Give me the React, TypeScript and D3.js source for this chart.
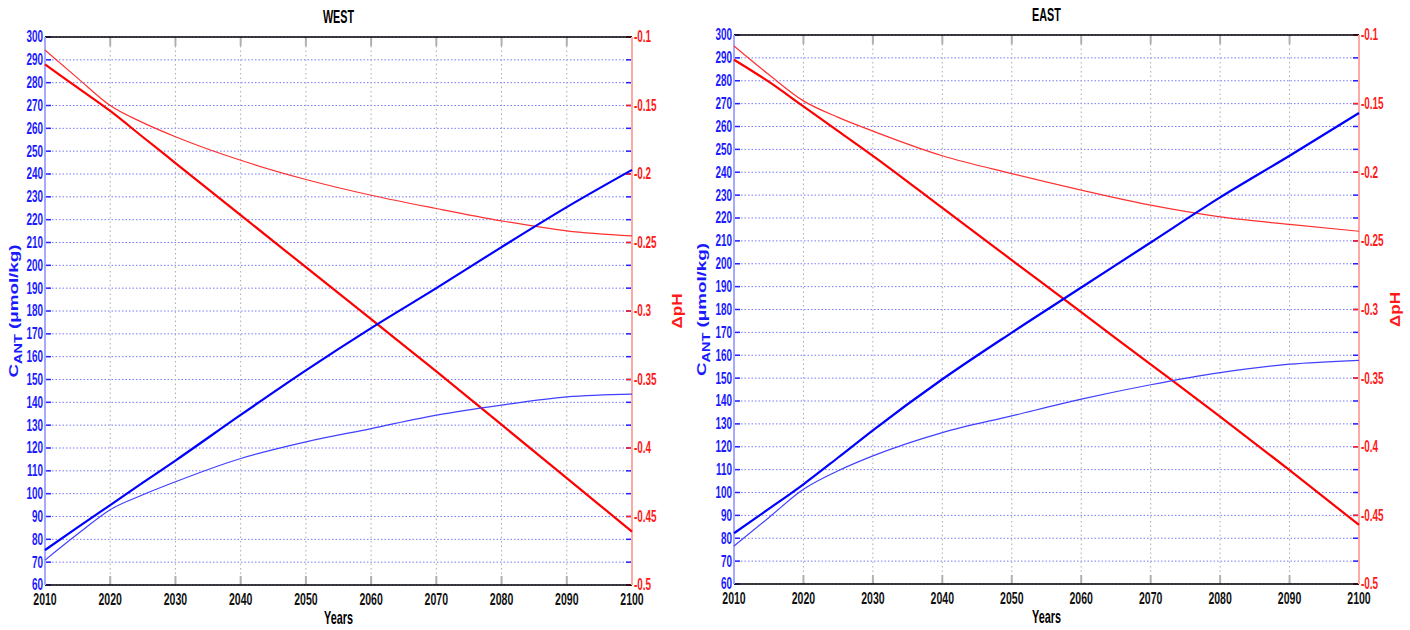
import React from 'react';
import * as d3 from 'd3';

const years = [2010, 2015, 2020, 2025, 2030, 2040, 2050, 2060, 2070, 2080, 2090, 2100];

const westCantHigh = [75.3, 85.2, 95, 104.8, 114.5, 134.5, 154, 172.5, 190, 208, 225.5, 241.8];
const westCantLow = [70.9, 82.3, 93, 99.5, 105.2, 115.4, 122.7, 128.5, 134.4, 138.8, 142.4, 143.6];
const westPhHigh = [-0.12, -0.137, -0.154, -0.173, -0.192, -0.23, -0.268, -0.306, -0.344, -0.383, -0.422, -0.461];
const westPhLow = [-0.1095, -0.13, -0.15, -0.1625, -0.1728, -0.19, -0.204, -0.2155, -0.2252, -0.2342, -0.2415, -0.2452];

const eastCantHigh = [82.2, 92.8, 103.6, 115.3, 127.2, 149.5, 169.9, 189.6, 209.3, 229, 247.2, 265.9];
const eastCantLow = [76.6, 89, 101.4, 109.5, 116, 126.2, 133.5, 140.8, 147.1, 152.4, 156.1, 157.8];
const eastPhHigh = [-0.118, -0.134, -0.152, -0.17, -0.188, -0.226, -0.264, -0.302, -0.34, -0.378, -0.417, -0.457];
const eastPhLow = [-0.108, -0.1288, -0.148, -0.16, -0.17, -0.188, -0.201, -0.213, -0.224, -0.2325, -0.238, -0.243];

const leftTicks = d3.range(60, 301, 10);
const rightTicks = [-0.1, -0.15, -0.2, -0.25, -0.3, -0.35, -0.4, -0.45, -0.5];
const yearTicks = d3.range(2010, 2101, 10);

const FONT = "'Liberation Sans', Arial, sans-serif";

function NText(props: any) {
  const { x, y, anchor = 'middle', size = 16, fill = '#000', sx = 0.62, dy, children } = props;
  return (
    <text
      transform={`translate(${x},${y}) scale(${sx},1)`}
      textAnchor={anchor}
      fontSize={size}
      fontWeight="bold"
      fill={fill}
      fontFamily={FONT}
      dy={dy}
    >
      {children}
    </text>
  );
}

function Panel(p: any) {
  const x = d3.scaleLinear().domain([2010, 2100]).range([p.x0, p.x1]);
  const yL = d3.scaleLinear().domain([60, 300]).range([p.y1, p.y0]);
  const yR = d3.scaleLinear().domain([-0.5, -0.1]).range([p.y1, p.y0]);
  const lineL = d3
    .line<number>()
    .x((_, i) => x(years[i]))
    .y((d) => yL(d))
    .curve(d3.curveMonotoneX);
  const lineR = d3
    .line<number>()
    .x((_, i) => x(years[i]))
    .y((d) => yR(d))
    .curve(d3.curveMonotoneX);
  const cx = (p.x0 + p.x1) / 2;
  const cy = (p.y0 + p.y1) / 2;
  return (
    <g>
      {leftTicks.map((t) => (
        <line
          key={'h' + t}
          x1={p.x0}
          x2={p.x1}
          y1={yL(t)}
          y2={yL(t)}
          stroke="#7777ff"
          strokeWidth={1}
          strokeDasharray="1.5,2"
        />
      ))}
      {yearTicks.map((t) => (
        <line
          key={'v' + t}
          x1={x(t)}
          x2={x(t)}
          y1={p.y0}
          y2={p.y1}
          stroke="#aaaaaa"
          strokeWidth={1}
          strokeDasharray="1.5,3"
        />
      ))}
      {yearTicks.map((t) => (
        <g key={'xt' + t}>
          <line x1={x(t)} x2={x(t)} y1={p.y0} y2={p.y0 + 9} stroke="#b0b0b0" strokeWidth={2} />
          <line x1={x(t)} x2={x(t)} y1={p.y1} y2={p.y1 - 9} stroke="#b0b0b0" strokeWidth={2} />
          <NText x={x(t)} y={p.y1 + 20} size={17} fill="#111">
            {t}
          </NText>
        </g>
      ))}
      {leftTicks.map((t) => (
        <g key={'lt' + t}>
          <line x1={p.x0} x2={p.x0 + 6} y1={yL(t)} y2={yL(t)} stroke="#2222ff" strokeWidth={1.5} />
          <line x1={p.x1} x2={p.x1 - 6} y1={yL(t)} y2={yL(t)} stroke="#2222ff" strokeWidth={1.5} />
          <NText x={p.x0 - 2} y={yL(t)} anchor="end" size={16} fill="#1a1aff" dy="0.34em">
            {t}
          </NText>
        </g>
      ))}
      {rightTicks.map((t) => (
        <g key={'rt' + t}>
          <line x1={p.x1} x2={p.x1 - 6} y1={yR(t)} y2={yR(t)} stroke="#ff2222" strokeWidth={1.5} />
          <NText x={p.x1 + 2} y={yR(t)} anchor="start" size={16} fill="#ff1a1a" dy="0.34em">
            {String(t)}
          </NText>
        </g>
      ))}
      <line x1={p.x0} x2={p.x1} y1={p.y0} y2={p.y0} stroke="#000" strokeWidth={1.5} />
      <line x1={p.x0} x2={p.x1} y1={p.y1} y2={p.y1} stroke="#000" strokeWidth={1.5} />
      <line x1={p.x0} x2={p.x0} y1={p.y0} y2={p.y1} stroke="#a8a8ff" strokeWidth={2} />
      <line x1={p.x1} x2={p.x1} y1={p.y0} y2={p.y1} stroke="#ffa8a8" strokeWidth={2} />
      <path d={lineR(p.phLow) || ''} fill="none" stroke="#ff3030" strokeWidth={1.2} />
      <path d={lineR(p.phHigh) || ''} fill="none" stroke="#ff0000" strokeWidth={2.2} />
      <path d={lineL(p.cantLow) || ''} fill="none" stroke="#4040ff" strokeWidth={1.2} />
      <path d={lineL(p.cantHigh) || ''} fill="none" stroke="#0000ff" strokeWidth={2.2} />
      <NText x={cx} y={p.y0 - 14} size={18} fill="#000" sx={0.6}>
        {p.title}
      </NText>
      <NText x={cx} y={p.y1 + 39} size={18} fill="#000" sx={0.6}>
        Years
      </NText>
      <text
        transform={`translate(${p.labL},${cy}) rotate(-90)`}
        textAnchor="middle"
        fontSize={13}
        fontWeight="bold"
        fill="#1a1aff"
        fontFamily={FONT}
        textLength={133}
        lengthAdjust="spacingAndGlyphs"
      >
        C<tspan dy={4} fontSize={10}>ANT</tspan>
        <tspan dy={-4}> (μmol/kg)</tspan>
      </text>
      <text
        transform={`translate(${p.labR},${cy}) rotate(-90)`}
        textAnchor="middle"
        fontSize={14}
        fontWeight="bold"
        fill="#ff1a1a"
        fontFamily={FONT}
        textLength={35}
        lengthAdjust="spacingAndGlyphs"
      >
        ΔpH
      </text>
    </g>
  );
}

export default function App() {
  return (
    <div style={{ position: 'absolute', left: 0, top: 0 }}>
      <svg width={1410} height={630} style={{ display: 'block', background: '#fff' }}>
        <Panel
          title="WEST"
          x0={45}
          x1={632}
          y0={37}
          y1={585}
          labL={18}
          labR={682}
          cantHigh={westCantHigh}
          cantLow={westCantLow}
          phHigh={westPhHigh}
          phLow={westPhLow}
        />
        <Panel
          title="EAST"
          x0={734}
          x1={1359}
          y0={35}
          y1={584}
          labL={706}
          labR={1400}
          cantHigh={eastCantHigh}
          cantLow={eastCantLow}
          phHigh={eastPhHigh}
          phLow={eastPhLow}
        />
      </svg>
    </div>
  );
}
